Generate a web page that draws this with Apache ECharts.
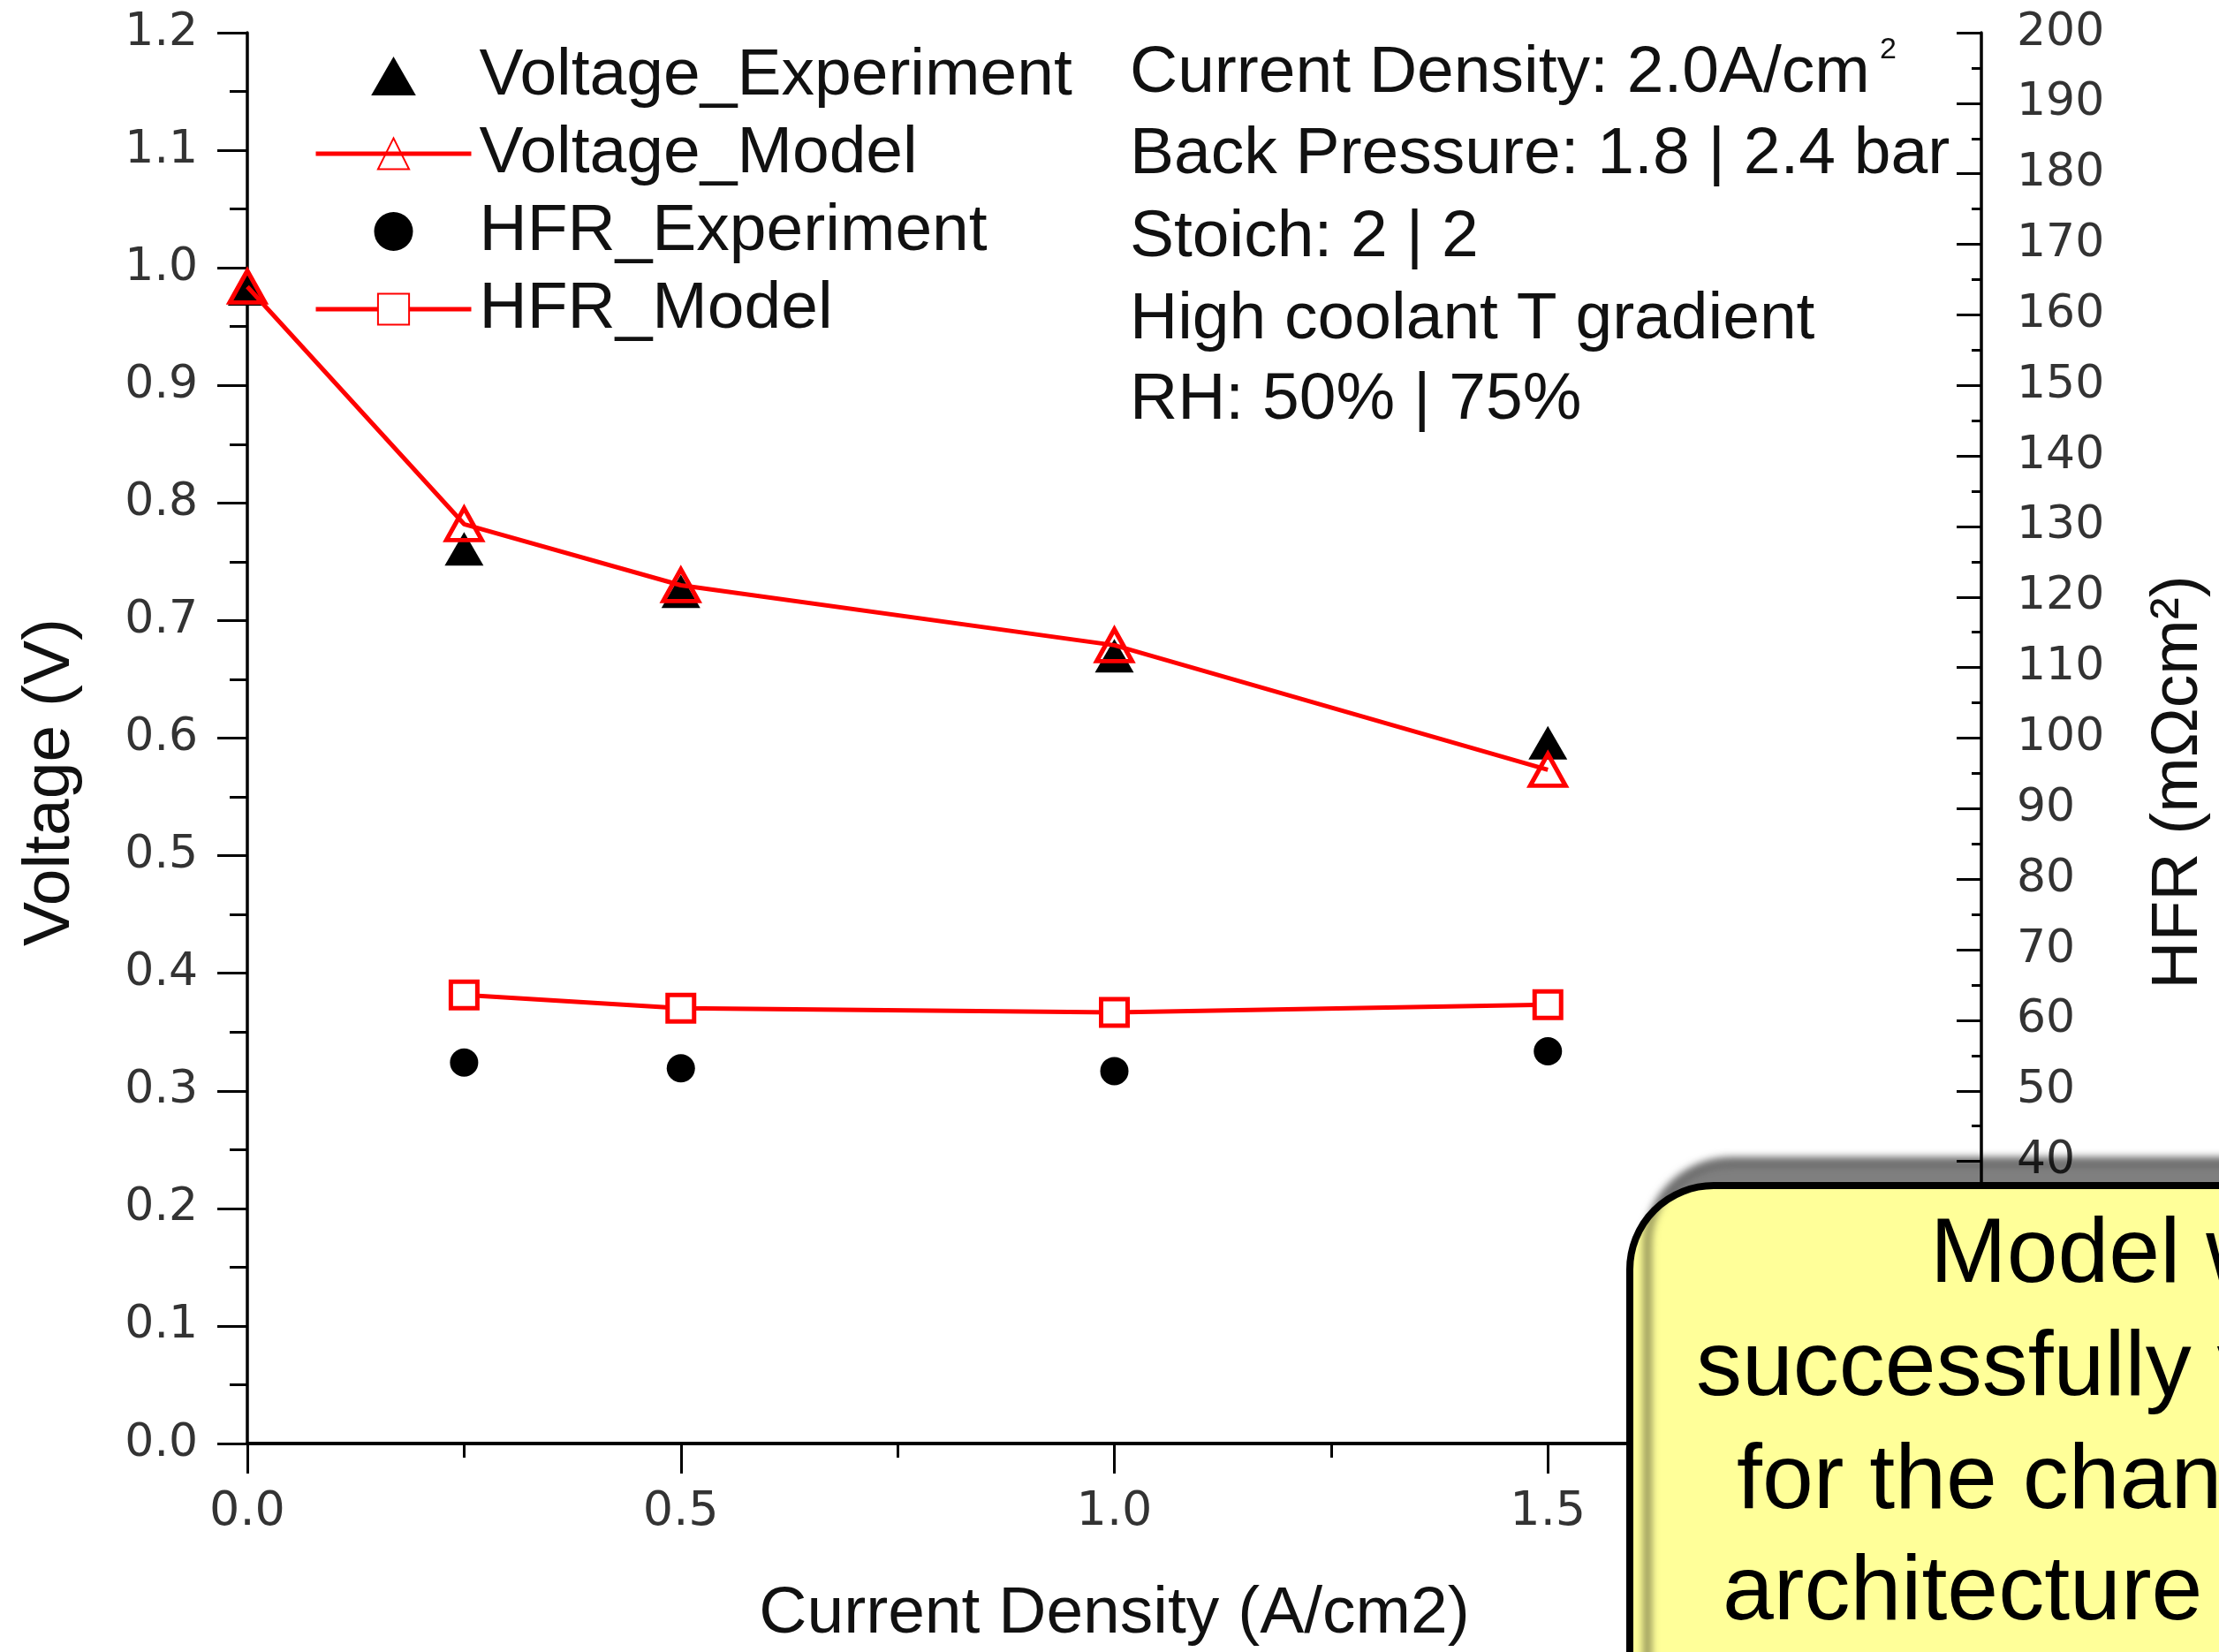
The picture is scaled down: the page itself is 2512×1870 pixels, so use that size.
<!DOCTYPE html>
<html>
<head>
<meta charset="utf-8">
<script src="https://cdn.jsdelivr.net/npm/echarts@6/dist/echarts.min.js"></script>
<style>
html,body{margin:0;padding:0;background:#fff;}
#chart{width:2512px;height:1870px;}
</style>
</head>
<body>
<div id="chart"></div>
<script>
// ---- data ----
var voltageX = [0, 0.25, 0.5, 1.0, 1.5];
var voltageExperiment = [0.982, 0.761, 0.725, 0.670, 0.596];
var voltageModel = [0.984, 0.782, 0.730, 0.679, 0.573];
var hfrX = [0.25, 0.5, 1.0, 1.5];
var hfrExperiment = [54.0, 53.2, 52.8, 55.6];
var hfrModel = [63.6, 61.7, 61.1, 62.2];
var seriesNames = ['Voltage_Experiment', 'Voltage_Model', 'HFR_Experiment', 'HFR_Model'];
var annotationLines = ['Current Density: 2.0A/cm', 'Back Pressure: 1.8 | 2.4 bar', 'Stoich: 2 | 2', 'High coolant T gradient', 'RH: 50% | 75%'];
var calloutLines = ['Model was', 'successfully validated', 'for the changed', 'architecture'];
var xAxisTitle = 'Current Density (A/cm2)';
var yLeftTitle = 'Voltage (V)';
var yRightTitle = 'HFR (m\u03A9cm\u00B2)';

function pairs(xs, ys) { return xs.map(function (x, i) { return [x, ys[i]]; }); }

var SANS = "'Liberation Sans', Arial, sans-serif";
var TICKFONT = "'DejaVu Sans', sans-serif";

var chart = echarts.init(document.getElementById('chart'), null, {renderer: 'canvas'});

var annoY = [83, 175, 269, 362, 453];
var graphics = annotationLines.map(function (t, i) {
  return {type: 'text', x: 1279, y: annoY[i], z: 50,
    style: {text: t, fontSize: 75, fontFamily: SANS, fill: '#111', align: 'left', verticalAlign: 'middle'}};
});
graphics.push({type: 'text', x: 2128, y: 57, z: 50,
  style: {text: '2', fontSize: 34, fontFamily: SANS, fill: '#111', align: 'left', verticalAlign: 'middle'}});
graphics.push({type: 'rect', z: 100,
  shape: {x: 1845, y: 1342, width: 1000, height: 800, r: 95},
  style: {fill: '#ffff99', stroke: '#000', lineWidth: 8, shadowBlur: 10, shadowOffsetX: 20, shadowOffsetY: -28, shadowColor: 'rgba(0,0,0,0.5)'}});
var calloutX = [2185, 1920, 1966, 1950];
var calloutY = [1422, 1550, 1678, 1804];
calloutLines.forEach(function (t, i) {
  graphics.push({type: 'text', x: calloutX[i], y: calloutY[i], z: 101,
    style: {text: t, fontSize: 104, fontFamily: SANS, fill: '#000', align: 'left', verticalAlign: 'middle'}});
});

var option = {
  animation: false,
  backgroundColor: '#fff',
  grid: {left: 280, right: 255, top: 37, bottom: 234, containLabel: false},
  legend: {
    orient: 'vertical', left: 350, top: 43, itemWidth: 176, itemHeight: 44, itemGap: 12,
    symbolKeepAspect: true,
    data: [
      {name: seriesNames[0], icon: 'path://M23 0L46 40L0 40Z'},
      {name: seriesNames[1]},
      {name: seriesNames[2]},
      {name: seriesNames[3]}
    ],
    lineStyle: {width: 5},
    textStyle: {fontSize: 75, lineHeight: 76, fontFamily: SANS, color: '#111', padding: [0, 0, 0, 4]}
  },
  xAxis: {
    type: 'value', min: 0, max: 2, interval: 0.5,
    name: xAxisTitle, nameLocation: 'middle', nameGap: 156,
    nameTextStyle: {fontSize: 75, fontFamily: SANS, color: '#111'},
    axisLine: {show: true, onZero: false, lineStyle: {color: '#000', width: 4}},
    axisTick: {show: true, inside: false, length: 34, lineStyle: {color: '#000', width: 3}},
    minorTick: {show: true, splitNumber: 2, length: 16, lineStyle: {color: '#000', width: 3}},
    axisLabel: {margin: 51, fontSize: 54, fontFamily: TICKFONT, color: '#333', formatter: function (v) { return v.toFixed(1); }},
    splitLine: {show: false}
  },
  yAxis: [{
    type: 'value', position: 'left', min: 0, max: 1.2, interval: 0.1,
    name: yLeftTitle, nameLocation: 'middle', nameGap: 185, nameRotate: 90,
    nameTextStyle: {fontSize: 75, fontFamily: SANS, color: '#111', padding: [0, 100, 0, 0]},
    axisLine: {show: true, lineStyle: {color: '#000', width: 3.5}},
    axisTick: {show: true, inside: false, length: 34, lineStyle: {color: '#000', width: 3}},
    minorTick: {show: true, splitNumber: 2, length: 20, lineStyle: {color: '#000', width: 3}},
    axisLabel: {margin: 56, fontSize: 52, fontFamily: TICKFONT, color: '#333', formatter: function (v) { return v.toFixed(1); }},
    splitLine: {show: false}
  }, {
    type: 'value', position: 'right', min: 0, max: 200, interval: 10,
    name: yRightTitle, nameLocation: 'middle', nameGap: 186, nameRotate: 90,
    nameTextStyle: {fontSize: 75, fontFamily: SANS, color: '#111', padding: [0, 100, 0, 0]},
    axisLine: {show: true, lineStyle: {color: '#000', width: 3.5}},
    axisTick: {show: true, inside: true, length: 28, lineStyle: {color: '#000', width: 3}},
    minorTick: {show: true, splitNumber: 2, length: 11, lineStyle: {color: '#000', width: 3}},
    axisLabel: {margin: 40, fontSize: 52, fontFamily: TICKFONT, color: '#333', formatter: function (v) { return String(Math.round(v)); }},
    splitLine: {show: false}
  }],
  series: [{
    name: seriesNames[0], type: 'scatter', yAxisIndex: 0, z: 2,
    data: pairs(voltageX, voltageExperiment),
    symbol: 'triangle', symbolSize: [44, 38], symbolKeepAspect: true,
    itemStyle: {color: '#000', opacity: 1}
  }, {
    name: seriesNames[2], type: 'scatter', yAxisIndex: 1, z: 2,
    data: pairs(hfrX, hfrExperiment),
    symbol: 'circle', symbolSize: 32, symbolKeepAspect: true,
    itemStyle: {color: '#000', opacity: 1}
  }, {
    name: seriesNames[1], type: 'line', yAxisIndex: 0, z: 3,
    data: pairs(voltageX, voltageModel),
    symbol: 'triangle', symbolSize: [40, 36], showAllSymbol: true,
    lineStyle: {color: '#ff0000', width: 5},
    itemStyle: {color: 'rgba(255,255,255,0)', borderColor: '#ff0000', borderWidth: 5}
  }, {
    name: seriesNames[3], type: 'line', yAxisIndex: 1, z: 3,
    data: pairs(hfrX, hfrModel),
    symbol: 'rect', symbolSize: 30, showAllSymbol: true,
    lineStyle: {color: '#ff0000', width: 5},
    itemStyle: {color: '#ffffff', borderColor: '#ff0000', borderWidth: 5}
  }],
  graphic: graphics
};
chart.setOption(option);
</script>
</body>
</html>
